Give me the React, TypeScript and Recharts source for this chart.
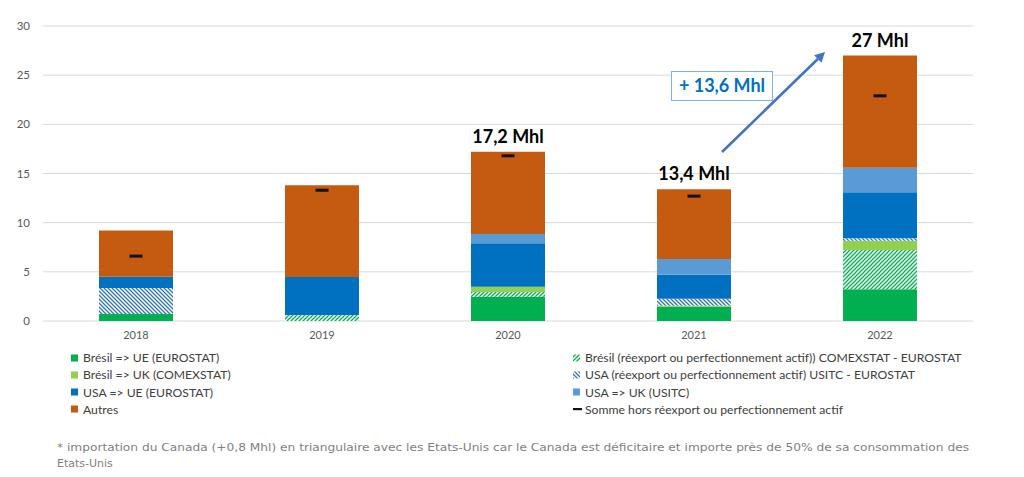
import React from 'react';
import { ComposedChart, Bar, Line, XAxis, YAxis, CartesianGrid, LabelList } from 'recharts';

const years = ['2018', '2019', '2020', '2021', '2022'];
const bresilUE = [0.7, 0, 2.47, 1.46, 3.22];
const bresilReexport = [0, 0.6, 0.48, 0, 4.0];
const bresilUK = [0, 0, 0.54, 0.1, 0.95];
const usaReexport = [2.65, 0, 0, 0.7, 0.24];
const usaUE = [1.15, 3.87, 4.41, 2.44, 4.68];
const usaUK = [0, 0, 0.95, 1.6, 2.5];
const autres = [4.7, 9.33, 8.35, 7.1, 11.41];
const sommeHorsReexport = [6.6, 13.3, 16.8, 12.7, 22.9];
const totalLabels = ['', '', '17,2 Mhl', '13,4 Mhl', '27 Mhl'];
const yTicks = [0, 5, 10, 15, 20, 25, 30];

const legendItems = [
  { name: 'Brésil => UE (EUROSTAT)', fill: '#00B050', kind: 'box' },
  { name: 'Brésil (réexport ou perfectionnement actif)) COMEXSTAT - EUROSTAT', fill: 'url(#hatchGreen)', kind: 'box' },
  { name: 'Brésil => UK (COMEXSTAT)', fill: '#92D050', kind: 'box' },
  { name: 'USA (réexport ou perfectionnement actif) USITC - EUROSTAT', fill: 'url(#hatchBlue)', kind: 'box' },
  { name: 'USA => UE (EUROSTAT)', fill: '#0070C0', kind: 'box' },
  { name: 'USA => UK (USITC)', fill: '#5B9BD5', kind: 'box' },
  { name: 'Autres', fill: '#C55A11', kind: 'box' },
  { name: 'Somme hors réexport ou perfectionnement actif', fill: '#000000', kind: 'dash' },
];

const footnoteLine1 = "* importation du Canada (+0,8 Mhl) en triangulaire avec les Etats-Unis car le Canada est déficitaire et importe près de 50% de sa consommation des";
const footnoteLine2 = 'Etats-Unis';
const growthLabel = '+ 13,6 Mhl';

const data = years.map((y, i) => ({
  year: y,
  bresilUE: bresilUE[i],
  bresilReexport: bresilReexport[i],
  bresilUK: bresilUK[i],
  usaReexport: usaReexport[i],
  usaUE: usaUE[i],
  usaUK: usaUK[i],
  autres: autres[i],
  somme: sommeHorsReexport[i],
  label: totalLabels[i],
}));

const FONT = 'Lato, "Open Sans", sans-serif';

const DashDot = (props: any) => {
  const { cx, cy, index } = props;
  if (cx == null || cy == null) return <g key={`d${index}`} />;
  return <rect key={`d${index}`} x={cx - 6.5} y={cy - 1.5} width={13} height={3} fill="#111" />;
};

const TotalLabel = (props: any) => {
  const { x, y, width, value } = props;
  if (!value) return null;
  return (
    <text x={Number(x) + Number(width) / 2} y={Number(y) - 9} textAnchor="middle" fontFamily={FONT} fontWeight={700} fontSize={18} fill="#000">
      {value}
    </text>
  );
};

export default function App() {
  return (
    <div style={{ position: 'absolute', left: 0, top: 0, width: 1024, height: 477, background: '#fff', overflow: 'hidden', fontFamily: FONT }}>
      <svg width={0} height={0} style={{ position: 'absolute' }}>
        <defs>
          <pattern id="hatchGreen" patternUnits="userSpaceOnUse" width={4} height={4}>
            <rect width={4} height={4} fill="#fff" />
            <path d="M-1,1 l2,-2 M0,4 l4,-4 M3,5 l2,-2" stroke="#00B050" strokeWidth={1.3} />
          </pattern>
          <pattern id="hatchBlue" patternUnits="userSpaceOnUse" width={4} height={4}>
            <rect width={4} height={4} fill="#fff" />
            <path d="M-1,3 l2,2 M0,0 l4,4 M3,-1 l2,2" stroke="#2E75B6" strokeWidth={1.3} />
          </pattern>
        </defs>
      </svg>
      <ComposedChart width={1024} height={345} data={data} margin={{ top: 26, right: 51, bottom: 0, left: 0 }} barSize={74}>
        <CartesianGrid vertical={false} stroke="#D9D9D9" />
        <XAxis dataKey="year" axisLine={false} tickLine={false} height={24} tick={{ fontSize: 11, fill: '#595959', fontFamily: FONT }} tickMargin={4} />
        <YAxis domain={[0, 30]} ticks={yTicks} width={43} axisLine={false} tickLine={false} tickMargin={7} tick={{ fontSize: 11.5, fill: '#595959', fontFamily: FONT }} />
        <Bar dataKey="bresilUE" stackId="a" fill="#00B050" isAnimationActive={false} />
        <Bar dataKey="bresilReexport" stackId="a" fill="url(#hatchGreen)" isAnimationActive={false} />
        <Bar dataKey="bresilUK" stackId="a" fill="#92D050" isAnimationActive={false} />
        <Bar dataKey="usaReexport" stackId="a" fill="url(#hatchBlue)" isAnimationActive={false} />
        <Bar dataKey="usaUE" stackId="a" fill="#0070C0" isAnimationActive={false} />
        <Bar dataKey="usaUK" stackId="a" fill="#5B9BD5" isAnimationActive={false} />
        <Bar dataKey="autres" stackId="a" fill="#C55A11" isAnimationActive={false}>
          <LabelList dataKey="label" content={TotalLabel} />
        </Bar>
        <Line dataKey="somme" stroke="none" dot={DashDot} activeDot={false} isAnimationActive={false} legendType="none" />
      </ComposedChart>

      {legendItems.map((it, i) => {
        const col = i % 2;
        const row = Math.floor(i / 2);
        const left = col === 0 ? 71 : 573;
        const top = 349 + row * 17.3;
        return (
          <div key={it.name} style={{ position: 'absolute', left, top, height: 17, display: 'flex', alignItems: 'center', whiteSpace: 'nowrap' }}>
            <svg width={11} height={10} style={{ marginRight: 1 }}>
              {it.kind === 'box' ? <rect x={0} y={1.5} width={7} height={7} fill={it.fill} /> : <rect x={0} y={4} width={9} height={2.2} fill="#111" />}
            </svg>
            <span style={{ fontSize: 12.2, color: '#404040', fontFamily: FONT }}>{it.name}</span>
          </div>
        );
      })}

      <svg width={1024} height={477} style={{ position: 'absolute', left: 0, top: 0, pointerEvents: 'none' }}>
        <line x1={722} y1={152} x2={817.8} y2={59} stroke="#4472C4" strokeWidth={2.6} />
        <polygon points="825,52 821.5,62.8 814.1,55.2" fill="#4472C4" />
        <rect x={671.5} y={71.5} width={101} height={29} fill="#fff" stroke="#7FB2E0" strokeWidth={1} />
        <text x={722} y={92} textAnchor="middle" fontFamily={FONT} fontWeight={700} fontSize={18} fill="#0070C0">{growthLabel}</text>
        <text x={57} y={451} fontFamily='"DejaVu Sans", sans-serif' fontSize={11} fill="#7F7F7F" textLength={912} lengthAdjust="spacingAndGlyphs">{footnoteLine1}</text>
        <text x={57} y={467} fontFamily='"DejaVu Sans", sans-serif' fontSize={11} fill="#7F7F7F">{footnoteLine2}</text>
      </svg>
    </div>
  );
}
